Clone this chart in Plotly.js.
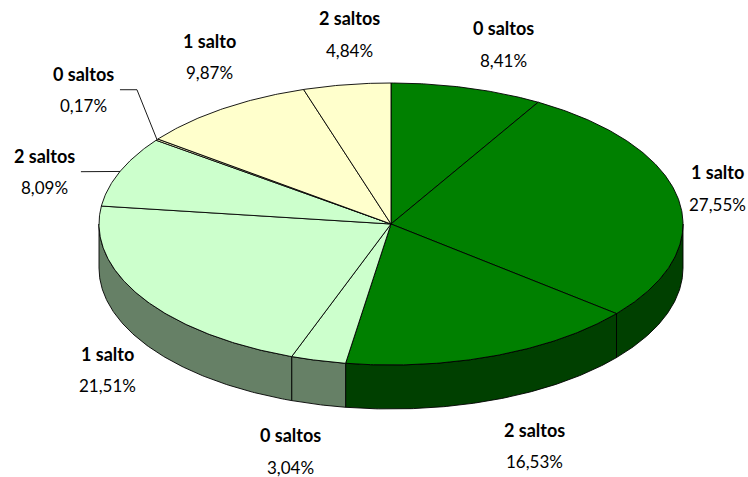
<!DOCTYPE html>
<html>
<head>
<meta charset="utf-8">
<script src="https://cdn.plot.ly/plotly-3.0.1.min.js"></script>
<style>html,body{margin:0;padding:0;background:#fff;}#chart{width:748px;height:477px;}</style>
</head>
<body>
<div id="chart"></div>
<script>
// ---- data (clockwise from 12 o'clock) ----
const sliceNames = ["0 saltos","1 salto","2 saltos","0 saltos","1 salto","2 saltos","0 saltos","1 salto","2 saltos"];
const sliceValues = [8.41, 27.55, 16.53, 3.04, 21.51, 8.09, 0.17, 9.87, 4.84];
const sliceLabels = ["8,41%","27,55%","16,53%","3,04%","21,51%","8,09%","0,17%","9,87%","4,84%"];
const sliceGroup = [0,0,0,1,1,1,2,2,2];

// ---- styles ----
const topColors  = ["#008000", "#CCFFCC", "#FFFFCC"];
const sideColors = ["#004000", "#668066", "#808066"];
const W = 748, H = 477;
const cx = 391, cy = 224, rx = 292, ry = 141, depth = 44;
const labelGapX = 40, labelGapY = 45;
// pixel nudges of the label blocks (Excel-like placement)
const labelNudge = [[26,0],[0,-3],[26,4],[-18,3],[0,5],[-38,17],[-41,-23],[10,-15],[9,-6]];
const leaderSlices = [5,6];

const total = sliceValues.reduce((a,b)=>a+b,0);
const rad = d => d*Math.PI/180;
const px = t => cx + rx*Math.sin(rad(t));
const py = t => cy - ry*Math.cos(rad(t));

const traces = [];
const annotations = [];
let cum = 0;
const sides = [], tops = [];
sliceValues.forEach((v,i)=>{
  const a1 = cum/total*360, a2 = (cum+v)/total*360;
  cum += v;
  // top face
  const xs=[cx], ys=[cy];
  const n = Math.max(2, Math.ceil((a2-a1)/0.5));
  for(let k=0;k<=n;k++){const t=a1+(a2-a1)*k/n; xs.push(px(t)); ys.push(py(t));}
  xs.push(cx); ys.push(cy);
  tops.push({type:'scatter',mode:'lines',x:xs,y:ys,fill:'toself',fillcolor:topColors[sliceGroup[i]],
    line:{color:'#000',width:0.9},hoverinfo:'skip',showlegend:false});
  // side wall (front half only)
  const s1=Math.max(a1,90), s2=Math.min(a2,270);
  if(s1<s2){
    const sx=[], sy=[];
    const m=Math.max(2,Math.ceil((s2-s1)/0.5));
    for(let k=0;k<=m;k++){const t=s1+(s2-s1)*k/m; sx.push(px(t)); sy.push(py(t));}
    for(let k=m;k>=0;k--){const t=s1+(s2-s1)*k/m; sx.push(px(t)); sy.push(py(t)+depth);}
    sx.push(sx[0]); sy.push(sy[0]);
    sides.push({type:'scatter',mode:'lines',x:sx,y:sy,fill:'toself',fillcolor:sideColors[sliceGroup[i]],
      line:{color:'#000',width:0.9},hoverinfo:'skip',showlegend:false});
  }
  // labels
  const mid=(a1+a2)/2, s=Math.sin(rad(mid)), c=Math.cos(rad(mid));
  let lx = cx + (rx+labelGapX)*s + labelNudge[i][0];
  let ly = cy - (ry+labelGapY)*c + (c<0?depth:0) + labelNudge[i][1];
  annotations.push({x:lx,y:ly-16,xref:'x',yref:'y',text:'<b>'+sliceNames[i]+'</b>',showarrow:false,
    font:{family:'Lato, sans-serif',size:18,color:'#000'},xanchor:'center',yanchor:'middle'});
  annotations.push({x:lx,y:ly+16,xref:'x',yref:'y',text:sliceLabels[i],showarrow:false,
    font:{family:'Lato, sans-serif',size:17,color:'#000'},xanchor:'center',yanchor:'middle'});
  if(leaderSlices.includes(i)){
    const ex=px(mid), ey=py(mid);
    const x0 = lx+36, x1 = lx+53;
    traces.push({type:'scatter',mode:'lines',x:[x0,x1,ex],y:[ly,ly,ey],line:{color:'#000',width:0.9},
      hoverinfo:'skip',showlegend:false});
  }
});

const data = sides.concat(tops, traces);
const layout = {
  width:W, height:H, margin:{l:0,r:0,t:0,b:0},
  paper_bgcolor:'#fff', plot_bgcolor:'#fff', showlegend:false,
  xaxis:{range:[0,W],visible:false,fixedrange:true},
  yaxis:{range:[H,0],visible:false,fixedrange:true},
  annotations:annotations
};
Plotly.newPlot('chart', data, layout, {displayModeBar:false, staticPlot:true});
</script>
</body>
</html>
